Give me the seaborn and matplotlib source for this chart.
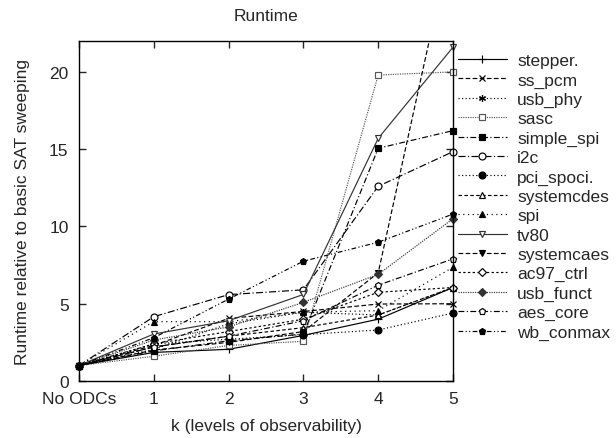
import numpy as np
import pandas as pd
import matplotlib
matplotlib.use("Agg")
import matplotlib.pyplot as plt
import matplotlib.transforms as mtransforms
import seaborn as sns

k = [0, 1, 2, 3, 4, 5]
k_labels = ["No ODCs", "1", "2", "3", "4", "5"]

stepper = [1, 1.85, 2.05, 2.95, 4.0, 6.05]
ss_pcm = [1, 2.3, 4.05, 4.5, 4.98, 5.0]
usb_phy = [1, 2.05, 3.7, 4.45, 4.27, 6.05]
sasc = [1, 1.6, 2.3, 2.57, 19.8, 20.0]
simple_spi = [1, 1.95, 2.6, 3.04, 15.06, 16.2]
i2c = [1, 4.16, 5.59, 5.9, 12.6, 14.84]
pci_spoci = [1, 2.4, 2.7, 3.0, 3.3, 4.4]
systemcdes = [1, 2.2, 2.9, 3.45, 4.27, 6.05]
spi = [1, 3.84, 3.84, 4.45, 4.55, 7.36]
tv80 = [1, 3.04, 3.9, 5.6, 15.7, 21.6]
systemcaes = [1, 2.0, 2.5, 3.2, 7.0, 29.0]
ac97_ctrl = [1, 2.4, 3.2, 4.0, 5.74, 6.05]
usb_funct = [1, 2.65, 3.5, 5.09, 6.9, 10.5]
aes_core = [1, 2.2, 2.9, 3.9, 6.2, 7.9]
wb_conmax = [1, 2.8, 5.3, 7.75, 8.98, 10.8]

series = {
    "stepper.": stepper, "ss_pcm": ss_pcm, "usb_phy": usb_phy, "sasc": sasc,
    "simple_spi": simple_spi, "i2c": i2c, "pci_spoci.": pci_spoci,
    "systemcdes": systemcdes, "spi": spi, "tv80": tv80,
    "systemcaes": systemcaes, "ac97_ctrl": ac97_ctrl, "usb_funct": usb_funct,
    "aes_core": aes_core, "wb_conmax": wb_conmax,
}

# gnuplot-like line/point types: (linestyle, marker, filled, colour, size)
styles = {
    "stepper.":   ("-", "+", True, "black", 5.5),
    "ss_pcm":     ((0, (4, 2)), "x", True, "black", 5),
    "usb_phy":    ((0, (1, 2)), (6, 2, 0), True, "black", 5),
    "sasc":       ((0, (1, 1)), "s", False, "#555555", 5),
    "simple_spi": ((0, (5, 2, 1, 2)), "s", True, "black", 5),
    "i2c":        ((0, (6, 2, 1, 2)), "o", False, "black", 5),
    "pci_spoci.": ((0, (1, 2)), "o", True, "black", 5),
    "systemcdes": ((0, (3, 2)), "^", False, "black", 5),
    "spi":        ((0, (1, 3)), "^", True, "black", 5),
    "tv80":       ("-", "v", False, "#333333", 5),
    "systemcaes": ((0, (4, 2)), "v", True, "black", 5),
    "ac97_ctrl":  ((0, (2, 2)), "D", False, "black", 4),
    "usb_funct":  ((0, (1, 1)), "D", True, "#333333", 4),
    "aes_core":   ((0, (5, 2, 1, 2)), "p", False, "black", 5),
    "wb_conmax":  ((0, (4, 2, 1, 2, 1, 2)), "p", True, "black", 5),
}

df = pd.DataFrame([(name, x, y) for name, vals in series.items() for x, y in zip(k, vals)],
                  columns=["bench", "k", "runtime"])

sns.set_style("ticks")
plt.rcParams["font.family"] = ["Liberation Sans", "DejaVu Sans"]
plt.rcParams["font.size"] = 12.5

fig = plt.figure(figsize=(6.16, 4.39), dpi=100)
ax = fig.add_axes([79 / 616, 57 / 439, 374 / 616, 340 / 439])

clip = mtransforms.TransformedBbox(mtransforms.Bbox([[-0.03, -0.03], [1.03, 1.0]]), ax.transAxes)

for name in series:
    ls, mk, filled, col, ms = styles[name]
    sub = df[df["bench"] == name]
    sns.lineplot(data=sub, x="k", y="runtime", ax=ax, label=name, color=col,
                 linestyle=ls, linewidth=0.85, marker=mk, markersize=ms,
                 markerfacecolor=col if filled else "white", markeredgecolor=col,
                 markeredgewidth=0.85)
    line = ax.get_lines()[-1]
    line.set_clip_box(clip)

ax.set_xlim(0, 5)
ax.set_ylim(0, 22)
ax.set_xticks(k)
ax.set_xticklabels(k_labels)
ax.set_yticks([0, 5, 10, 15, 20])
ax.tick_params(direction="in", top=True, right=True, length=5, width=1, labelsize=12.5)
ax.tick_params(axis="x", pad=7)
ax.tick_params(axis="y", pad=7.5)
for s in ax.spines.values():
    s.set_linewidth(1.0)
    s.set_color("black")

ax.set_title("Runtime", fontsize=12.5, pad=15)
ax.set_xlabel("k (levels of observability)", fontsize=12.5, labelpad=9)
ax.set_ylabel("Runtime relative to basic SAT sweeping", fontsize=12.5, labelpad=14)

ax.legend(loc="upper left", bbox_to_anchor=(458 / 616, 1 - 54 / 439), bbox_transform=fig.transFigure,
          frameon=False, handlelength=2.8, handletextpad=0.6, labelspacing=0.24,
          borderaxespad=0, borderpad=0, fontsize=12.5)

fig.savefig("out.png", dpi=100)
